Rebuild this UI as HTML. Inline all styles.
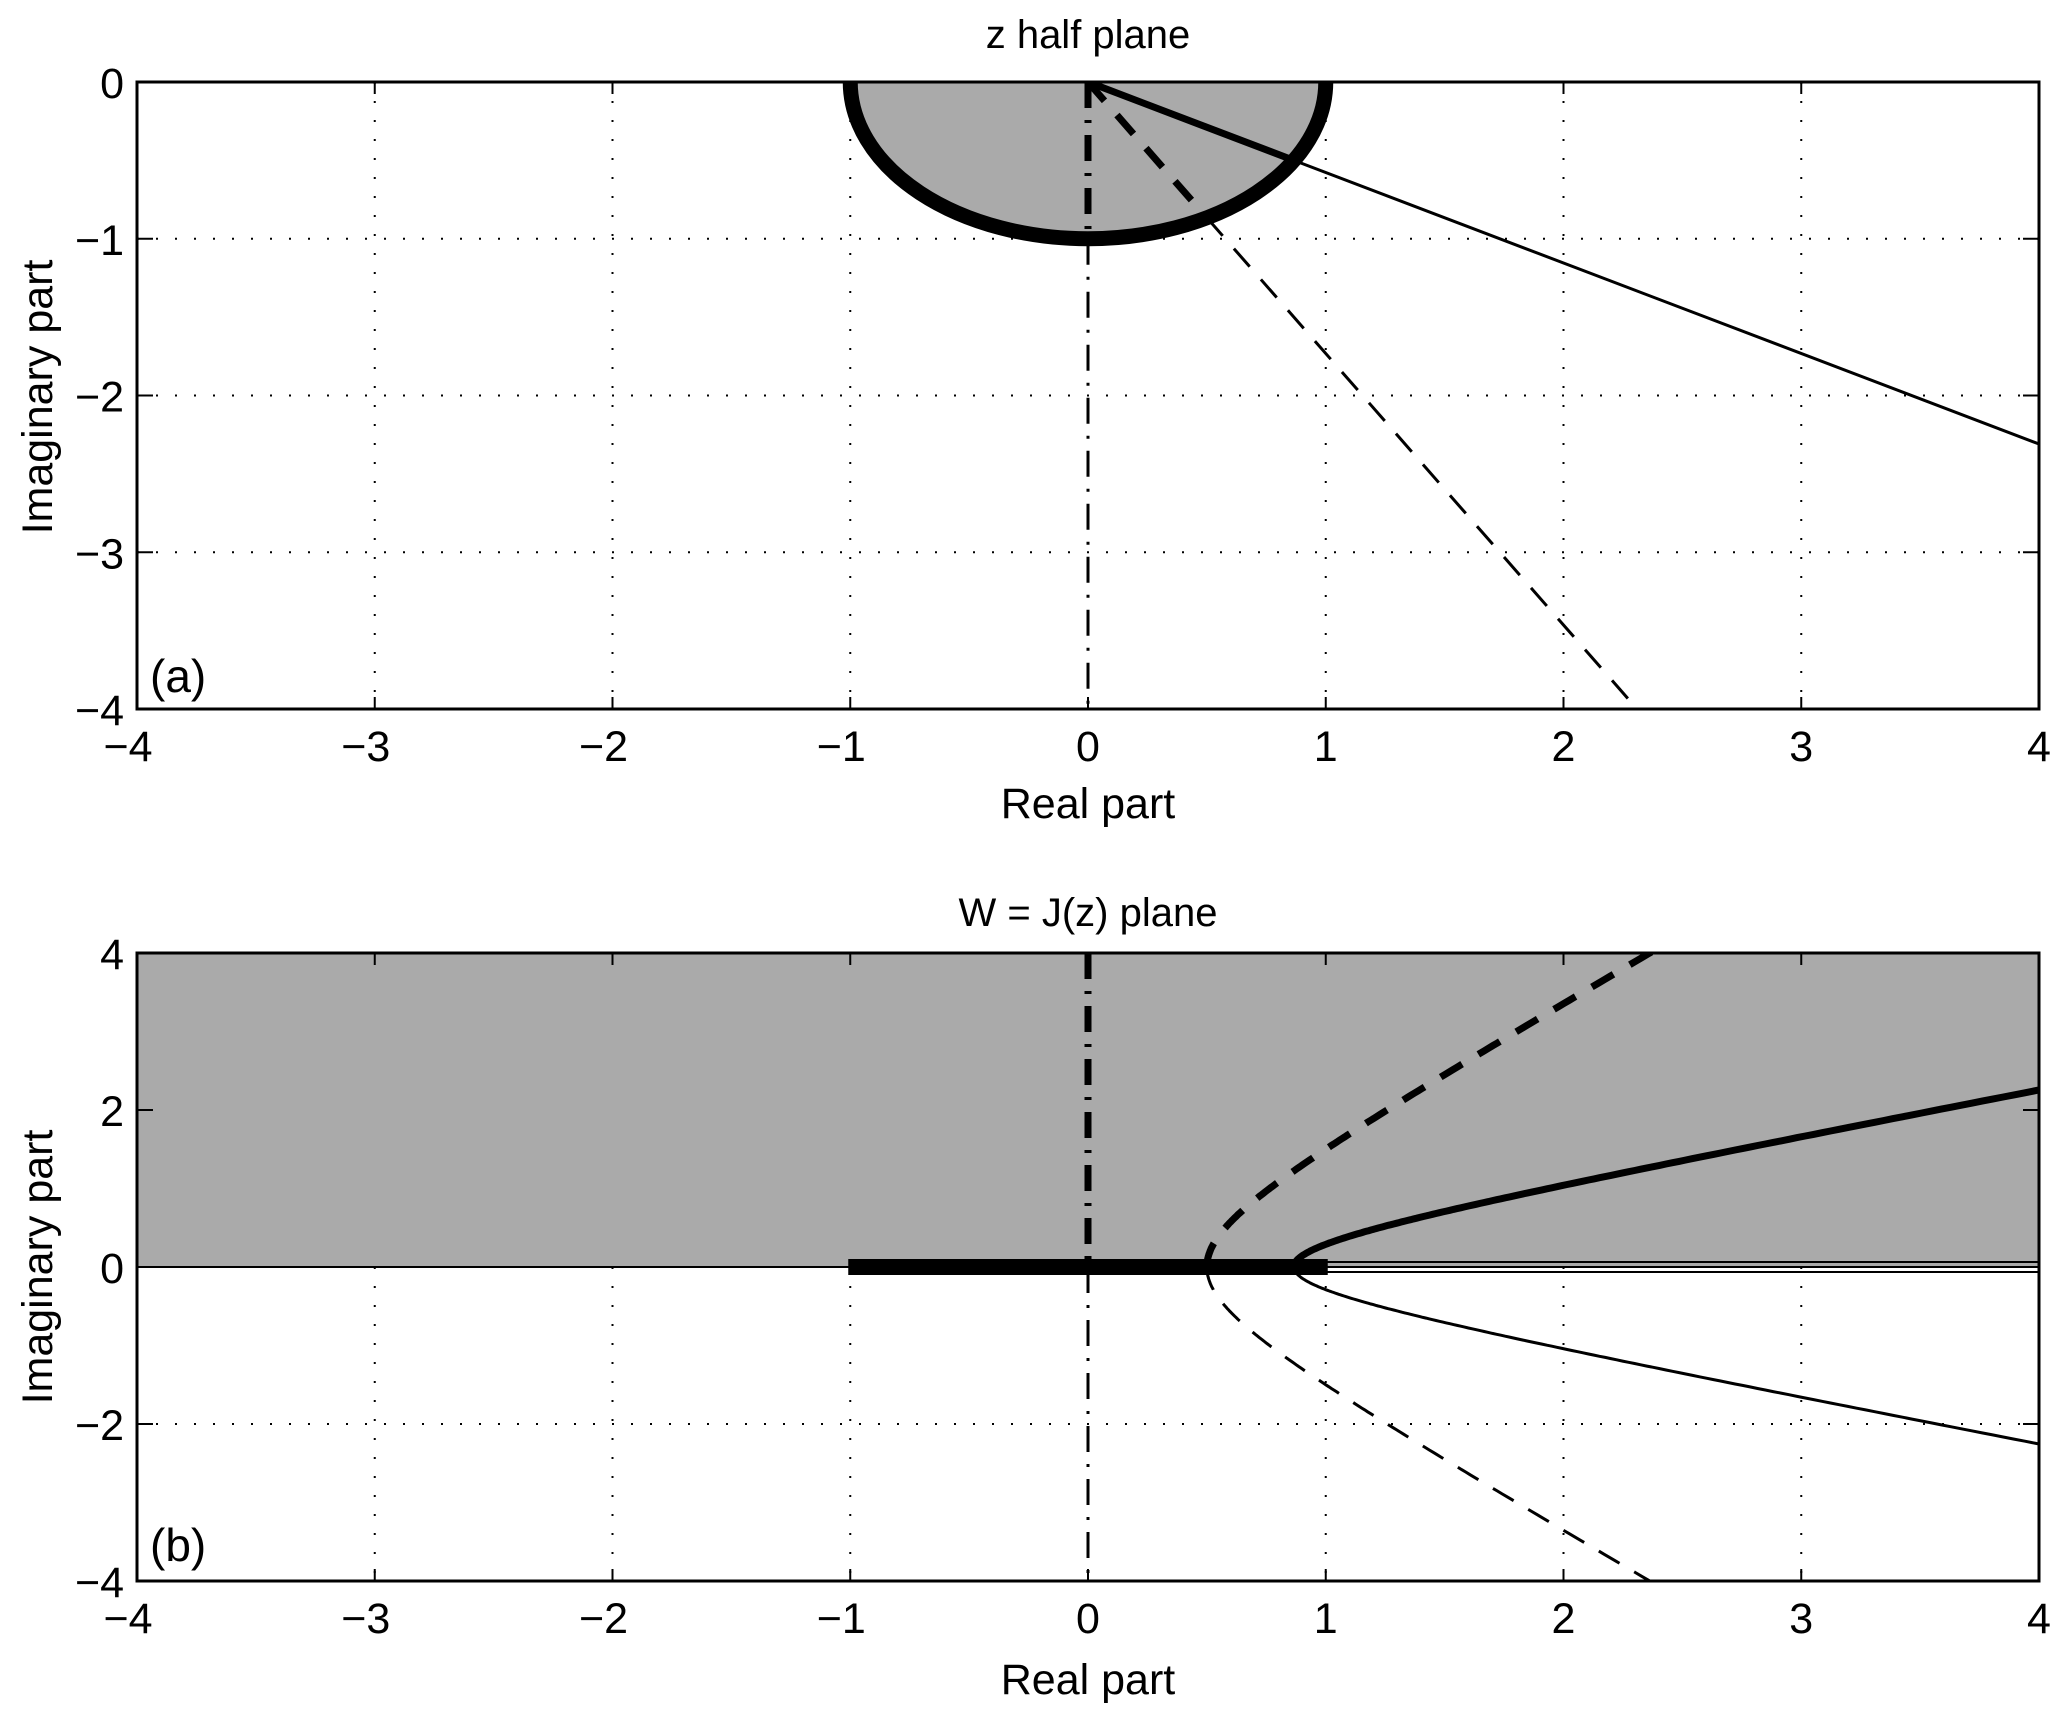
<!DOCTYPE html>
<html><head><meta charset="utf-8"><style>
html,body{margin:0;padding:0;background:#fff;width:2067px;height:1711px;overflow:hidden;}
svg{display:block;}
text{font-family:"Liberation Sans",Arial,sans-serif;fill:#000;}
</style></head><body>
<svg id="s" xmlns="http://www.w3.org/2000/svg" width="2067" height="1711" viewBox="0 0 2067 1711">
<defs>
<clipPath id="c1"><rect x="137" y="82" width="1902" height="627"/></clipPath>
<clipPath id="c2"><rect x="137" y="953" width="1902" height="628"/></clipPath>
</defs>
<g id="gtop"></g>
<g id="gbot"></g>
<g font-size="43" text-anchor="middle">
<text x="1088" y="48" font-size="40">z half plane</text>
<text x="1088" y="818">Real part</text>
<text x="1088" y="926" font-size="40">W = J(z) plane</text>
<text x="1088" y="1694">Real part</text>
<text transform="translate(52,397) rotate(-90)">Imaginary part</text>
<text transform="translate(52,1267) rotate(-90)">Imaginary part</text>
</g>
<g font-size="46">
<text x="150" y="692">(a)</text>
<text x="150" y="1561">(b)</text>
</g>
</svg>
<script>
(function(){
var NS="http://www.w3.org/2000/svg";
function el(p,t,a,txt){var e=document.createElementNS(NS,t);for(var k in a)e.setAttribute(k,a[k]);if(txt!==undefined)e.textContent=txt;p.appendChild(e);return e;}
var L=137,R=2039,x0=1088,ux=237.75;
function X(x){return x0+ux*x;}
var gt=document.getElementById('gtop'),gb=document.getElementById('gbot');
var T=82,B=709,uy=156.75;
function Y1(y){return T-uy*y;}
var g1=el(gt,'g',{'clip-path':'url(#c1)'});
for(var i=-3;i<=3;i++){if(i==0)continue;el(g1,'line',{x1:X(i),y1:T,x2:X(i),y2:B,stroke:'#000','stroke-width':2,'stroke-dasharray':'2 17'});}
for(var j=-3;j<=-1;j++){el(g1,'line',{x1:L,y1:Y1(j),x2:R,y2:Y1(j),stroke:'#000','stroke-width':2,'stroke-dasharray':'2 17'});}
el(g1,'path',{d:'M'+X(-1)+','+T+' A'+ux+','+uy+' 0 0 0 '+X(1)+','+T+' Z',fill:'#aaaaaa'});
el(g1,'line',{x1:X(0),y1:T,x2:X(0),y2:Y1(-1),stroke:'#000','stroke-width':7,'stroke-dasharray':'26 12 3 12'});
el(g1,'line',{x1:X(0),y1:Y1(-1),x2:X(0),y2:B,stroke:'#000','stroke-width':3,'stroke-dasharray':'26 12 3 12'});
var t30=Math.tan(Math.PI/6),c30=Math.cos(Math.PI/6),s30=Math.sin(Math.PI/6);
el(g1,'line',{x1:X(0),y1:T,x2:X(c30),y2:Y1(-s30),stroke:'#000','stroke-width':7});
el(g1,'line',{x1:X(c30),y1:Y1(-s30),x2:X(4),y2:Y1(-4*t30),stroke:'#000','stroke-width':3});
var c60=0.5,s60=Math.sin(Math.PI/3);
el(g1,'line',{x1:X(0),y1:T,x2:X(c60),y2:Y1(-s60),stroke:'#000','stroke-width':7,'stroke-dasharray':'25 19'});
el(g1,'line',{x1:X(c60),y1:Y1(-s60),x2:X(4/Math.sqrt(3)),y2:Y1(-4),stroke:'#000','stroke-width':3,'stroke-dasharray':'24 17'});
el(g1,'path',{d:'M'+X(-1)+','+(T-5)+' L'+X(-1)+','+T+' A'+ux+','+uy+' 0 0 0 '+X(1)+','+T+' L'+X(1)+','+(T-5),fill:'none',stroke:'#000','stroke-width':15});
el(gt,'rect',{x:L,y:T,width:R-L,height:B-T,fill:'none',stroke:'#000','stroke-width':3});
function ticks(p,Tt,Bb,ylist,Yf){
 for(var i=-4;i<=4;i++){el(p,'line',{x1:X(i),y1:Bb,x2:X(i),y2:Bb-12,stroke:'#000','stroke-width':2});el(p,'line',{x1:X(i),y1:Tt,x2:X(i),y2:Tt+12,stroke:'#000','stroke-width':2});}
 ylist.forEach(function(v){el(p,'line',{x1:L,y1:Yf(v),x2:L+16,y2:Yf(v),stroke:'#000','stroke-width':2});el(p,'line',{x1:R,y1:Yf(v),x2:R-16,y2:Yf(v),stroke:'#000','stroke-width':2});});
}
ticks(gt,T,B,[0,-1,-2,-3,-4],Y1);
function lab(p,Bb,ylist,Yf){
 for(var i=-4;i<=4;i++){el(p,'text',{x:X(i)-(i<0?9:0),y:Bb+52,'font-size':43,'text-anchor':'middle'},(i<0?'\u2212':'')+Math.abs(i));}
 ylist.forEach(function(v){el(p,'text',{x:124,y:Yf(v)+16,'font-size':43,'text-anchor':'end'},(v<0?'\u2212':'')+Math.abs(v));});
}
lab(gt,B,[0,-1,-2,-3,-4],Y1);
var T2=953,B2=1581,Z=1267,vy=78.5;
function Y2(y){return Z-vy*y;}
var g2=el(gb,'g',{'clip-path':'url(#c2)'});
for(var i=-3;i<=3;i++){if(i==0)continue;el(g2,'line',{x1:X(i),y1:Z,x2:X(i),y2:B2,stroke:'#000','stroke-width':2,'stroke-dasharray':'2 17'});}
el(g2,'line',{x1:L,y1:Y2(-2),x2:R,y2:Y2(-2),stroke:'#000','stroke-width':2,'stroke-dasharray':'2 17'});
el(g2,'rect',{x:L,y:T2,width:R-L,height:Z-T2,fill:'#aaaaaa'});
el(g2,'line',{x1:L,y1:Z,x2:R,y2:Z,stroke:'#000','stroke-width':2});
[-5,5].forEach(function(d){el(g2,'line',{x1:X(1),y1:Z+d,x2:R,y2:Z+d,stroke:'#000','stroke-width':2});});
el(g2,'line',{x1:X(0),y1:T2,x2:X(0),y2:Z,stroke:'#000','stroke-width':7,'stroke-dasharray':'26 12 3 12'});
el(g2,'line',{x1:X(0),y1:Z,x2:X(0),y2:B2,stroke:'#000','stroke-width':3,'stroke-dasharray':'26 12 3 12'});
function hyp(th,sign){
 var c=Math.cos(th),s=Math.sin(th),d='';
 for(var k=0;k<=300;k++){var t=k*0.012;var u=c*Math.cosh(t),v=sign*s*Math.sinh(t);d+=(k?'L':'M')+X(u).toFixed(1)+','+Y2(v).toFixed(1)+' ';}
 return d;
}
el(g2,'path',{d:hyp(Math.PI/6,1),fill:'none',stroke:'#000','stroke-width':7});
el(g2,'path',{d:hyp(Math.PI/6,-1),fill:'none',stroke:'#000','stroke-width':3});
el(g2,'path',{d:hyp(Math.PI/3,1),fill:'none',stroke:'#000','stroke-width':7,'stroke-dasharray':'25 19'});
el(g2,'path',{d:hyp(Math.PI/3,-1),fill:'none',stroke:'#000','stroke-width':3,'stroke-dasharray':'24 17'});
el(g2,'rect',{x:X(-1)-2,y:Z-8,width:X(1)-X(-1)+4,height:16,fill:'#000'});
el(gb,'rect',{x:L,y:T2,width:R-L,height:B2-T2,fill:'none',stroke:'#000','stroke-width':3});
ticks(gb,T2,B2,[4,2,0,-2,-4],Y2);
lab(gb,B2,[4,2,0,-2,-4],Y2);
})();
</script>
</body></html>
